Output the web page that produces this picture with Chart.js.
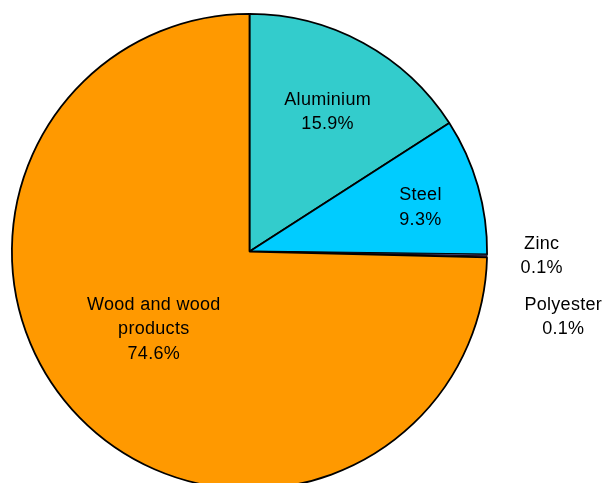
<!DOCTYPE html>
<html>
<head>
<meta charset="utf-8">
<script src="https://cdn.jsdelivr.net/npm/chart.js"></script>
<style>
html,body{margin:0;padding:0;background:#fff;overflow:hidden;}
#wrap{position:relative;width:603px;height:500px;}
</style>
</head>
<body>
<div id="wrap"><canvas id="c" width="603" height="500"></canvas></div>
<script>
const categories = ["Aluminium", "Steel", "Zinc", "Polyester", "Wood and wood\nproducts"];
const shares = [15.9, 9.3, 0.1, 0.1, 74.6];
const percentLabels = ["15.9%", "9.3%", "0.1%", "0.1%", "74.6%"];
const sliceColors = ["#33CCCC", "#00CCFF", "#9999FF", "#993366", "#FF9900"];

// label placement in polar coords: [fraction of outer radius, angle in degrees clockwise from top]
const labelPlacement = [[0.672, 29.3], [0.743, 75.5], [1.23, 90.9], [1.349, 101.8], [0.519, 230.9]];

const labelPlugin = {
  id: 'sliceLabels',
  afterDatasetsDraw(chart) {
    const ctx = chart.ctx;
    const meta = chart.getDatasetMeta(0);
    ctx.save();
    ctx.font = '18px "Liberation Sans", Arial, sans-serif';
    if ('letterSpacing' in ctx) ctx.letterSpacing = '0.3px';
    ctx.fillStyle = '#000';
    ctx.textAlign = 'center';
    ctx.textBaseline = 'middle';
    meta.data.forEach((arc, i) => {
      const p = labelPlacement[i];
      const a = p[1] * Math.PI / 180;
      const r = arc.outerRadius * p[0];
      const cx = arc.x + r * Math.sin(a);
      const cy = arc.y - r * Math.cos(a);
      const lines = categories[i].split('\n').concat([percentLabels[i]]);
      const lh = 24.5;
      const y0 = cy - (lines.length - 1) * lh / 2;
      lines.forEach((t, k) => ctx.fillText(t, cx, y0 + k * lh));
    });
    ctx.restore();
  }
};

new Chart(document.getElementById('c'), {
  type: 'pie',
  data: {
    labels: categories,
    datasets: [{
      data: shares,
      backgroundColor: sliceColors,
      borderColor: '#000',
      borderWidth: [1.8, 1.8, 0.8, 0.8, 1.8]
    }]
  },
  options: {
    responsive: false,
    animation: false,
    rotation: 0,
    layout: { padding: { left: 11, right: 115, top: 13, bottom: 10 } },
    plugins: { legend: { display: false }, tooltip: { enabled: false } }
  },
  plugins: [labelPlugin]
});
</script>
</body>
</html>
